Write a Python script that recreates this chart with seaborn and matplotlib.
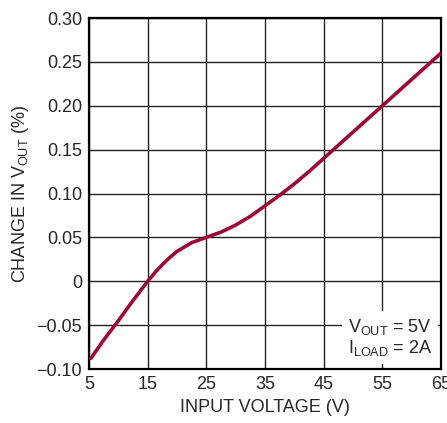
import numpy as np
import pandas as pd
import matplotlib
matplotlib.use("Agg")
import matplotlib.pyplot as plt
import seaborn as sns

# data
input_voltage = [5.3, 7.5, 10, 12.5, 15, 16.25, 17.5, 18.75, 20, 21.25, 22.5, 23.75, 25, 26.25, 27.5, 28.75, 30,
                 32.5, 35, 37.5, 40, 42.5, 45, 47.5, 50, 52.5, 55, 57.5, 60, 62.5, 65]
change_vout = [-0.088, -0.067, -0.045, -0.022, 0.0, 0.010, 0.019, 0.027, 0.034, 0.039, 0.044, 0.047, 0.050,
               0.053, 0.056, 0.060, 0.064, 0.074, 0.086, 0.098, 0.111, 0.125, 0.140, 0.155, 0.170, 0.185,
               0.200, 0.215, 0.230, 0.245, 0.260]
x_ticks = [5, 15, 25, 35, 45, 55, 65]
y_ticks = [-0.10, -0.05, 0, 0.05, 0.10, 0.15, 0.20, 0.25, 0.30]
y_labels = ["\u22120.10", "\u22120.05", "0", "0.05", "0.10", "0.15", "0.20", "0.25", "0.30"]

df = pd.DataFrame({"vin": input_voltage, "dv": change_vout})

sns.set_style("white")
plt.rcParams['font.family'] = ['Liberation Sans', 'DejaVu Sans']

fig = plt.figure(figsize=(4.47, 4.23), dpi=100)
ax = fig.add_axes([89 / 447, 1 - 369 / 423, 352 / 447, 351 / 423])

sns.lineplot(data=df, x="vin", y="dv", ax=ax, color="#9b0a36", linewidth=2.6, zorder=3)

ax.set_xlim(5, 65)
ax.set_ylim(-0.10, 0.30)
ax.set_xticks(x_ticks)
ax.set_yticks(y_ticks)
ax.set_yticklabels(y_labels)
ax.tick_params(length=0, labelsize=13, pad=5)
ax.grid(True, color="#222222", linewidth=1.0)
for s in ax.spines.values():
    s.set_linewidth(1.6)
    s.set_color("black")

ax.set_xlabel("INPUT VOLTAGE (V)", fontsize=13, labelpad=4)
ax.set_ylabel("CHANGE IN V$_{\\mathregular{OUT}}$ (%)", fontsize=13, labelpad=4)

ax.text(0.975, 0.03, "V$_{\\mathregular{OUT}}$ = 5V\nI$_{\\mathregular{LOAD}}$ = 2A",
        transform=ax.transAxes, ha="right", va="bottom", fontsize=13,
        linespacing=1.1, zorder=4,
        bbox=dict(facecolor="white", edgecolor="none", pad=4))

fig.savefig("out.png", dpi=100)
